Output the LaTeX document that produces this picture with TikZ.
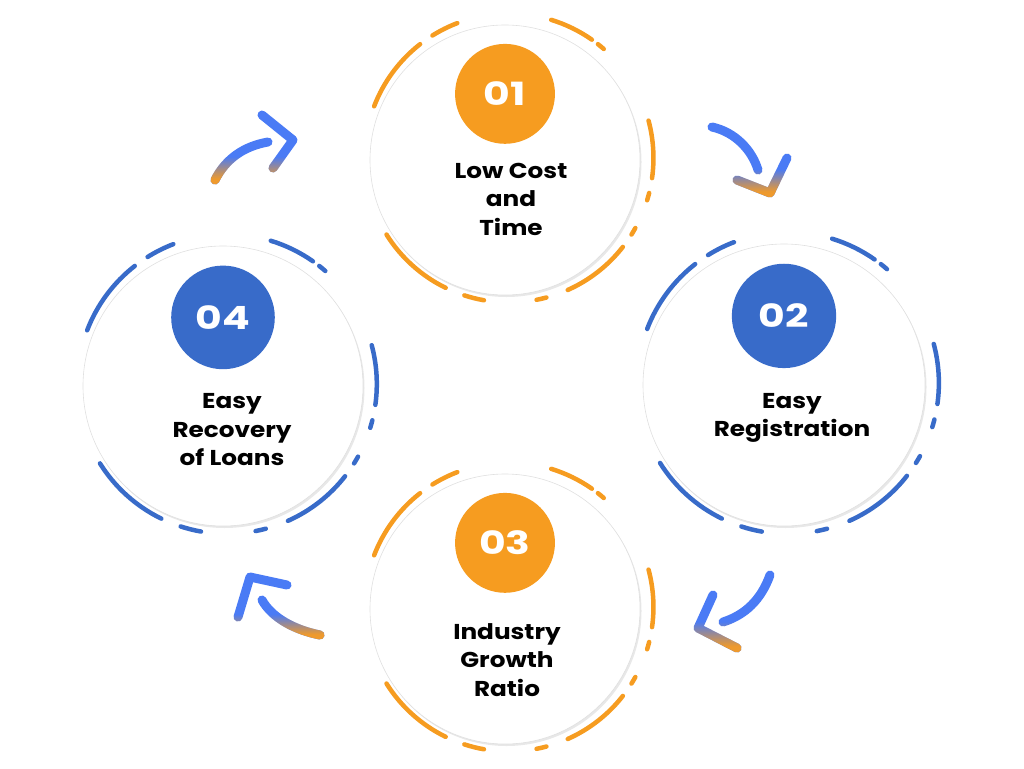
\documentclass[tikz,border=0pt]{standalone}
\usepackage{fontspec}
\setmainfont{Poppins}
\newfontfamily\numfont{Poppins}[FakeStretch=1.28]
\newfontfamily\stepfont{Poppins}[FakeStretch=1.15]
\usetikzlibrary{fadings}

\definecolor{steporange}{HTML}{F69C20}
\definecolor{stepblue}{HTML}{386BC9}
\definecolor{arrowblue}{HTML}{4A7BF5}
\definecolor{arroworange}{HTML}{EE9A2E}

% orange only near the lower end of each arrow
\pgfdeclareverticalshading{lowramp}{100bp}{color(0bp)=(white); color(29bp)=(white); color(44bp)=(black); color(100bp)=(black)}
\tikzfading[name=lowfade, shading=lowramp]

\tikzset{
  ringdash/.style={line width=4.5pt, line cap=round},
  disc/.style={circle, fill=white, draw=black!12, line width=0.6pt, minimum size=#1, inner sep=0pt},
  numdisc/.style={circle, minimum size=#1, inner sep=0pt, text=white, font=\fontsize{32}{32}\numfont\bfseries},
  steptext/.style={align=center, font=\fontsize{21.5}{28.5}\stepfont\bfseries},
  arrowline/.style={line width=9pt, line cap=round, line join=round, draw=arrowblue,
    postaction={draw=arroworange, path fading=lowfade, fit fading=true}},
}

\begin{document}
\begin{tikzpicture}[x=1pt,y=-1pt]
  \useasboundingbox (0,0) rectangle (1024,768);
  % the four steps: id / centre / radius / colour / number / text position / text
  \foreach \id/\cx/\cy/\r/\col/\num/\tx/\ty/\txt in {
      1/505/160/135/steporange/01/511/199/{Low Cost\\and\\Time},
      2/784/385/141/stepblue/02/792/418/{Easy\\Registration},
      3/505/609/135/steporange/03/507/660/{Industry\\Growth\\Ratio},
      4/223/386/140/stepblue/04/232/430/{Easy\\Recovery\\of Loans}}
  {
    \fill[black!9] ({\cx+1.5},{\cy+2}) circle[radius=\r]; % soft edge
    \node[disc=2*\r pt] (c\id) at (\cx,\cy) {};
    % broken ring round the disc
    \foreach \a/\b in {-159/-128,-122/-111,-73/-55,-52/-49,-15/8,14/17,29/32,38/66,75/79,100/108,116/148}
      \draw[ringdash,\col] ([shift={(\a:1.07*\r)}]\cx+4,\cy-2) arc[start angle=\a, end angle=\b, radius=1.07*\r];
    \node[numdisc=0.74*\r pt, fill=\col] (n\id) at ({\cx},{\cy-0.49*\r}) {\num};
    \node[steptext] (t\id) at (\tx,\ty) {\txt};
  }
  % arrows between the steps
  \coordinate (a1) at (215,180); \coordinate (b1) at (268,142);
  \coordinate (a2) at (712,127); \coordinate (b2) at (758,170);
  \coordinate (a3) at (770,575); \coordinate (b3) at (723,622);
  \coordinate (a4) at (320,635); \coordinate (b4) at (262,600);
  \draw[arrowline] (a1) .. controls (226,158) and (245,146) .. (b1)
    (262,115) -- (293,140) -- (273,168);
  \draw[arrowline] (a2) .. controls (735,132) and (752,150) .. (b2)
    (737,180) -- (770,193) -- (787,158);
  \draw[arrowline] (a3) .. controls (761,600) and (745,615) .. (b3)
    (713,595) -- (698,628) -- (737,648);
  \draw[arrowline] (a4) .. controls (295,630) and (272,618) .. (b4)
    (287,585) -- (250,577) -- (238,617);
\end{tikzpicture}
\end{document}
